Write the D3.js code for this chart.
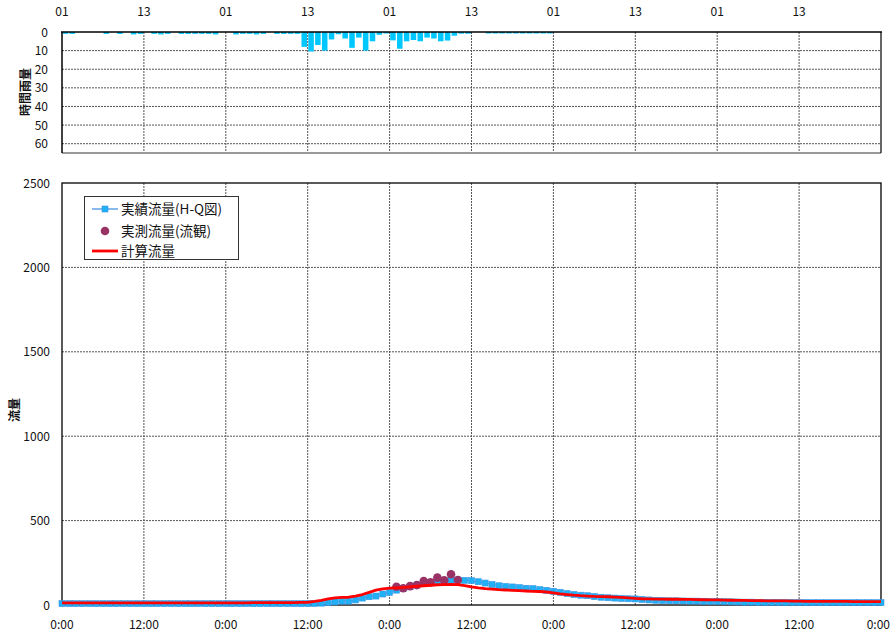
<!DOCTYPE html>
<html><head><meta charset="utf-8">
<script src="https://cdn.jsdelivr.net/npm/d3@7"></script>
<style>
html,body{margin:0;padding:0;background:#fff;}
svg text{font-family:"Noto Sans CJK JP","Liberation Sans",sans-serif;fill:#111;}
</style></head>
<body><svg id="c" width="891" height="638"></svg>
<script>
// ---- data (hour index from start, 0..120) ----
const rainfall = [
 1,1,0,0,0,0,1,0,1,0, 1.3,1,0,1,1.3,1,0,1,1,1,
 1,1,1.3,0,0,1.3,1,1,1.3,1, 0,1,1,1,1,8,10.5,7,10,4,
 1.2,3.5,8.5,3,10,5,1.5,0.8,4.5,9, 5,4.3,5,3,3.5,5,4.6,2,0.9,0.9,
 0,0,0.8,0.8,0.8,0.8,0.8,0.8,0.8,0.8, 0.8,0.8,0,0,0,0,0,0,0,0,
 0,0,0,0,0,0,0,0,0,0, 0,0,0,0,0,0,0,0,0,0,
 0,0,0,0,0,0,0,0,0,0, 0,0,0,0,0,0,0,0,0,0
];
const hqFlow = [
 8,8,8,8,8,8,8,8,8,8, 8,8,8,8,8,8,8,8,8,8,
 8,8,8,8,8,8,8,8,8,8, 8,8,8,8,8,8,8,9,11,14,
 18,23,23,30,41,49,53,65,75,88, 98,108,118,126,132,138,143,147,148,146,
 144,138,130,122,114,110,107,103,99,97, 91,87,81,75,68,62,58,55,50,46,
 43,41,39,37,36,33,30,28,26,25, 25,24,23,23,22,21,21,20,19,18,
 17,17,16,16,16,16,15,15,15,15, 14,14,14,14,14,14,14,14,14,14, 14
];
const calcFlow = [
 12,12,12,12,12,12,12,12,12,12, 12,12,12,12,12,12,12,12,12,12,
 12,12,12,12,12,12,12,12,14,14, 14,14,14,14,14,15,16,21,28,36,
 42,45,46,52,62,75,88,96,100,102, 104,108,111,114,117,120,121,122,121,115,
 107,101,97,94,91,89,87,85,83,81, 80,77,72,66,62,58,55,53,51,50,
 49,47,45,42,39,37,36,35,35,34, 34,33,33,32,31,30,30,29,28,27,
 27,26,26,25,25,24,24,23,23,22, 22,22,21,21,21,21,20,20,20,20, 20
];
const observedHours = [49,50,51,52,53,54,55,56,57,58];
const observedFlow  = [108,99,112,118,142,134,162,146,182,148];
const topTickLabels = ["01","13","01","13","01","13","01","13","01","13"];
const bottomTickLabels = ["0:00","12:00","0:00","12:00","0:00","12:00","0:00","12:00","0:00","12:00","0:00"];
const rainTicks = [0,10,20,30,40,50,60];
const flowTicks = [0,500,1000,1500,2000,2500];
const legendLabels = ["実績流量(H-Q図)","実測流量(流観)","計算流量"];

const svg = d3.select("#c");
const x = d3.scaleLinear().domain([0,120]).range([62,881]);
const yr = d3.scaleLinear().domain([0,65]).range([32,153]);
const yf = d3.scaleLinear().domain([0,2500]).range([605,183]);
const gridColor = "#555";

// ---------- top rain chart ----------
const gTop = svg.append("g");
gTop.selectAll("line.hg").data(rainTicks.slice(1)).join("line")
  .attr("x1",x(0)).attr("x2",x(120)).attr("y1",d=>yr(d)).attr("y2",d=>yr(d))
  .attr("stroke",gridColor).attr("stroke-width",1).attr("stroke-dasharray","2,1");
gTop.selectAll("line.vg").data(d3.range(12,120,12)).join("line")
  .attr("x1",d=>x(d)).attr("x2",d=>x(d)).attr("y1",yr(0)).attr("y2",yr(65))
  .attr("stroke",gridColor).attr("stroke-width",1).attr("stroke-dasharray","2,1");
const hw = x(1)-x(0);
gTop.selectAll("rect.bar").data(rainfall).join("rect")
  .attr("x",(d,i)=>x(i)+0.6).attr("width",hw-1.3)
  .attr("y",yr(0)).attr("height",d=>Math.max(0,yr(d)-yr(0)))
  .attr("fill","#00c8ff");
gTop.append("line").attr("x1",x(0)).attr("x2",x(120)).attr("y1",yr(65)).attr("y2",yr(65)).attr("stroke","#999").attr("stroke-width",2);
gTop.append("line").attr("x1",x(0)).attr("x2",x(0)).attr("y1",yr(0)).attr("y2",yr(65)).attr("stroke","#000").attr("stroke-width",1.5);
gTop.append("line").attr("x1",x(120)).attr("x2",x(120)).attr("y1",yr(0)).attr("y2",yr(65)).attr("stroke","#333").attr("stroke-width",1.5);
gTop.append("line").attr("x1",x(0)-1).attr("x2",x(120)+1).attr("y1",yr(0)).attr("y2",yr(0)).attr("stroke","#000").attr("stroke-width",1.6);
gTop.selectAll("text.yl").data(rainTicks).join("text")
  .attr("x",48).attr("y",d=>yr(d)+4.5).attr("text-anchor","end")
  .attr("font-size",12).text(d=>d);
gTop.selectAll("text.xl").data(topTickLabels).join("text")
  .attr("x",(d,i)=>x(i*12)).attr("y",16).attr("text-anchor","middle")
  .attr("font-size",12).text(d=>d);
gTop.append("text").attr("transform","translate(30,92) rotate(-90)")
  .attr("text-anchor","middle").attr("font-size",12).attr("font-weight","bold").text("時間雨量");

// ---------- bottom flow chart ----------
const gBot = svg.append("g");
gBot.selectAll("line.hg").data(flowTicks.slice(1,-1)).join("line")
  .attr("x1",x(0)).attr("x2",x(120)).attr("y1",d=>yf(d)).attr("y2",d=>yf(d))
  .attr("stroke",gridColor).attr("stroke-width",1).attr("stroke-dasharray","2,1");
gBot.selectAll("line.vg").data(d3.range(12,120,12)).join("line")
  .attr("x1",d=>x(d)).attr("x2",d=>x(d)).attr("y1",yf(0)).attr("y2",yf(2500))
  .attr("stroke",gridColor).attr("stroke-width",1).attr("stroke-dasharray","2,1");
gBot.append("rect").attr("x",x(0)).attr("y",yf(2500)).attr("width",x(120)-x(0)).attr("height",yf(0)-yf(2500))
  .attr("fill","none").attr("stroke","#000").attr("stroke-width",1.3);

const lineGen = (arr)=>d3.line().x((d,i)=>x(i)).y(d=>yf(d))(arr);
gBot.append("path").attr("d",lineGen(hqFlow)).attr("fill","none").attr("stroke","#3c8ae0").attr("stroke-width",1);
gBot.selectAll("rect.sq").data(hqFlow).join("rect")
  .attr("x",(d,i)=>x(i)-3).attr("y",d=>yf(d)-3).attr("width",6).attr("height",6)
  .attr("fill","#1fb0f5").attr("stroke","#3a95e6").attr("stroke-width",0.6);
gBot.selectAll("circle.ob").data(observedFlow).join("circle")
  .attr("cx",(d,i)=>x(observedHours[i])).attr("cy",d=>yf(d)).attr("r",4.3)
  .attr("fill","#993366");
gBot.append("path").attr("d",lineGen(calcFlow)).attr("fill","none").attr("stroke","#ff0000").attr("stroke-width",2.8).attr("stroke-linejoin","round");

gBot.selectAll("text.yl").data(flowTicks).join("text")
  .attr("x",50).attr("y",d=>yf(d)+4.5).attr("text-anchor","end")
  .attr("font-size",12).text(d=>d);
const nB = bottomTickLabels.length;
gBot.selectAll("text.xl").data(bottomTickLabels).join("text")
  .attr("x",(d,i)=> i===nB-1 ? 890 : x(i*12)).attr("y",629)
  .attr("text-anchor",(d,i)=> i===nB-1 ? "end" : "middle")
  .attr("font-size",12).text(d=>d);
gBot.append("text").attr("transform","translate(19,410) rotate(-90)")
  .attr("text-anchor","middle").attr("font-size",12).attr("font-weight","bold").text("流量");

// legend
const lg = svg.append("g");
lg.append("rect").attr("x",84.5).attr("y",196.5).attr("width",154).attr("height",63)
  .attr("fill","#fff").attr("stroke","#333").attr("stroke-width",1);
const ly = [209,231,251];
lg.append("line").attr("x1",92).attr("x2",118).attr("y1",ly[0]).attr("y2",ly[0]).attr("stroke","#3c8ae0").attr("stroke-width",1.2);
lg.append("rect").attr("x",102).attr("y",ly[0]-3).attr("width",6).attr("height",6).attr("fill","#1fb0f5").attr("stroke","#3a95e6").attr("stroke-width",0.6);
lg.append("circle").attr("cx",105).attr("cy",ly[1]).attr("r",4.3).attr("fill","#993366");
lg.append("line").attr("x1",92).attr("x2",118).attr("y1",ly[2]).attr("y2",ly[2]).attr("stroke","#ff0000").attr("stroke-width",2.8);
lg.selectAll("text.lt").data(legendLabels).join("text")
  .attr("x",121).attr("y",(d,i)=>ly[i]+5).attr("font-size",13.5).text(d=>d);
</script></body></html>
